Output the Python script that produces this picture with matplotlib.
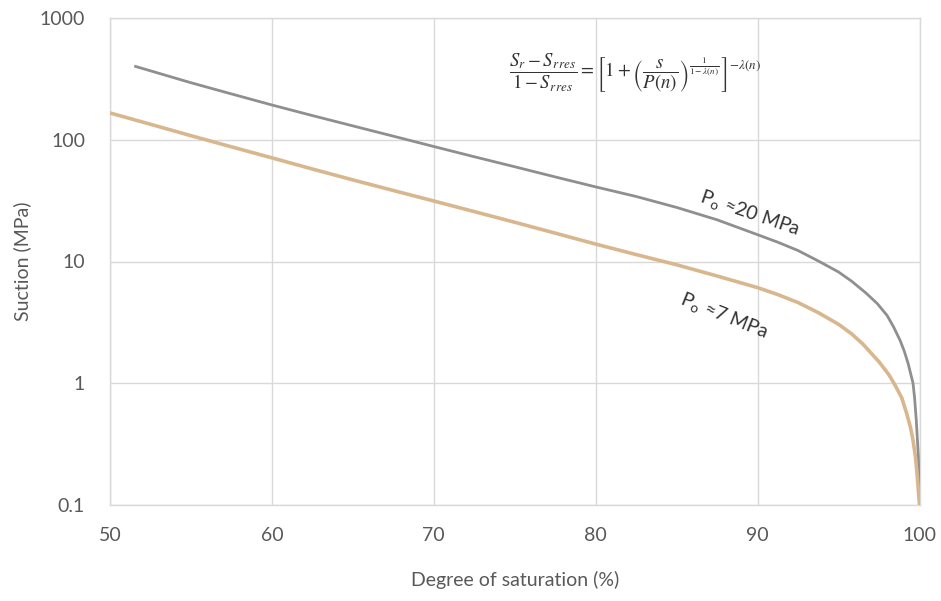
import matplotlib
matplotlib.use("Agg")
import matplotlib.pyplot as plt
from matplotlib.ticker import FixedLocator, FixedFormatter, NullLocator

# ---- data ----
sat_20 = [51.5, 55, 57.5, 60, 62.5, 65, 67.5, 70, 72.5, 75, 77.5, 80, 82.5, 85, 87.5, 90,
          91.25, 92.5, 93.75, 95, 95.8, 96.7, 97.4, 98, 98.4, 98.8, 99.05, 99.3, 99.6, 99.7,
          99.8, 99.93, 100]
suc_20 = [403, 294, 238, 193, 158, 130, 107, 88, 72.5, 60, 49.5, 41, 34.2, 27.8, 22.0, 16.6,
          14.4, 12.3, 10.1, 8.2, 6.9, 5.5, 4.5, 3.6, 2.9, 2.25, 1.85, 1.45, 1.0, 0.75,
          0.5, 0.25, 0.1]

sat_7 = [50, 52.5, 55, 57.5, 60, 62.5, 65, 67.5, 70, 72.5, 75, 77.5, 80, 82.5, 85, 87.5, 90,
         91.25, 92.5, 93.75, 95, 95.8, 96.5, 97.5, 98.1, 98.5, 98.9, 99.2, 99.45, 99.6, 99.75,
         99.85, 100]
suc_7 = [166, 134, 108, 87.5, 71, 57.5, 46.8, 38.3, 31.4, 25.7, 21, 17.1, 13.9, 11.4, 9.4, 7.6, 6.1,
         5.35, 4.6, 3.8, 3.05, 2.55, 2.1, 1.5, 1.18, 0.96, 0.76, 0.57, 0.43, 0.34, 0.25,
         0.18, 0.1]

x_ticks = [50, 60, 70, 80, 90, 100]
y_ticks = [0.1, 1, 10, 100, 1000]
y_tick_labels = ["0.1", "1", "10", "100", "1000"]

label_20 = r"P$_\mathrm{o}$ ≈20 MPa"
label_7 = r"P$_\mathrm{o}$ ≈7 MPa"
x_title = "Degree of saturation (%)"
y_title = "Suction (MPa)"
formula = (r"$\dfrac{S_r - S_{r\,res}}{1 - S_{r\,res}} = "
           r"\left[1 + \left(\dfrac{s}{P(n)}\right)^{\frac{1}{1-\lambda(n)}}\right]^{-\lambda(n)}$")

plt.rcParams["font.family"] = ["Lato", "DejaVu Sans"]
plt.rcParams["mathtext.fontset"] = "custom"
plt.rcParams["mathtext.rm"] = "Lato"
plt.rcParams["mathtext.it"] = "Lato:italic"

fig = plt.figure(figsize=(9.41, 6.01), dpi=100)
ax = fig.add_axes([110 / 941, 96 / 601, 809.5 / 941, 487 / 601])

grid_c = "#d9d9d9"
text_c = "#595959"

ax.plot(sat_20, suc_20, color="#8f8f8f", lw=2.0, solid_capstyle="butt", zorder=3)
ax.plot(sat_7, suc_7, color="#d8b78e", lw=2.6, solid_capstyle="butt", zorder=3)

ax.set_yscale("log")
ax.set_xlim(50, 100)
ax.set_ylim(0.1, 1000)
ax.xaxis.set_major_locator(FixedLocator(x_ticks))
ax.yaxis.set_major_locator(FixedLocator(y_ticks))
ax.yaxis.set_major_formatter(FixedFormatter(y_tick_labels))
ax.yaxis.set_minor_locator(NullLocator())
ax.grid(True, color=grid_c, lw=1.0, zorder=0)
for s in ax.spines.values():
    s.set_color(grid_c)
    s.set_linewidth(1.0)
ax.tick_params(length=0, labelsize=14, labelcolor=text_c)
ax.tick_params(axis="x", pad=16)
ax.tick_params(axis="y", pad=18)
ax.set_xlabel(x_title, fontsize=14, color=text_c, labelpad=19)
ax.set_ylabel(y_title, fontsize=14, color=text_c)
ax.yaxis.set_label_coords(-0.097, 0.5)

ax.text(635 / 941, 1 - 73 / 601, formula, transform=fig.transFigure, fontsize=13.5,
        ha="center", va="center", color="#333333", math_fontfamily="stix")

ax.annotate(label_20, xy=(750 / 941, 1 - 213 / 601), xycoords="figure fraction",
            fontsize=14, color="#333333", rotation=-19, ha="center", va="center",
            math_fontfamily="custom")
ax.annotate(label_7, xy=(724 / 941, 1 - 316 / 601), xycoords="figure fraction",
            fontsize=14, color="#333333", rotation=-22, ha="center", va="center",
            math_fontfamily="custom")

fig.savefig("out.png", dpi=100, facecolor="white")
